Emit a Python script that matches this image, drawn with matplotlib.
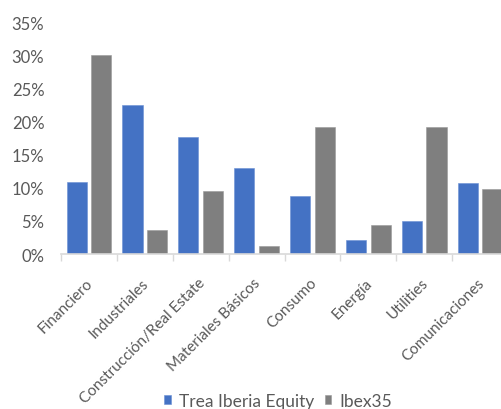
"""Sector weights: Trea Iberia Equity vs Ibex35."""

import matplotlib

matplotlib.use("Agg")
import matplotlib.pyplot as plt
import numpy as np
from matplotlib.ticker import FixedLocator
from matplotlib.transforms import ScaledTranslation

sectors = [
    "Financiero",
    "Industriales",
    "Construcción/Real Estate",
    "Materiales Básicos",
    "Consumo",
    "Energía",
    "Utilities",
    "Comunicaciones",
]
trea = [10.8, 22.5, 17.6, 12.9, 8.7, 2.05, 5.05, 10.65]
ibex = [30.0, 3.6, 9.55, 1.15, 19.15, 4.45, 19.15, 9.85]
y_ticks = [0, 5, 10, 15, 20, 25, 30, 35]

BLUE = "#4472C4"
GRAY = "#7F7F7F"
TEXT = "#595959"

plt.rcParams["font.family"] = ["Lato", "DejaVu Sans"]

fig = plt.figure(figsize=(5.01, 4.10), dpi=100)
ax = fig.add_axes([61 / 501, 155 / 410, 447 / 501, 232 / 410])

x = np.arange(len(sectors))
width = 0.36
ax.bar(x - 0.22, trea, width, color=BLUE, label="Trea Iberia Equity",
       edgecolor="#6a8fd4", linewidth=0.4)
ax.bar(x + 0.22, ibex, width, color=GRAY, label="Ibex35",
       edgecolor="#9a9a9a", linewidth=0.4)

ax.set_xlim(-0.5, len(sectors) - 0.5)
ax.set_ylim(0, 35)
ax.set_yticks(y_ticks)
ax.set_yticklabels([f"{v}%" for v in y_ticks])
ax.tick_params(axis="y", length=0, pad=12, labelsize=12, labelcolor=TEXT)

ax.set_xticks(x)
ax.set_xticklabels(sectors, rotation=45, ha="right", rotation_mode="anchor")
ax.tick_params(axis="x", which="major", length=0, pad=6, labelsize=11,
               labelcolor=TEXT)
# nudge the slanted labels down and a little left, like the original
offset = ScaledTranslation(-3 / 100, -13 / 100, fig.dpi_scale_trans)
for label in ax.get_xticklabels():
    label.set_transform(label.get_transform() + offset)
ax.xaxis.set_minor_locator(FixedLocator(np.arange(-0.5, len(sectors), 1.0)))
ax.tick_params(axis="x", which="minor", length=5, width=1, color="#D9D9D9",
               direction="out")

for side in ["top", "right", "left"]:
    ax.spines[side].set_visible(False)
ax.spines["bottom"].set_color("#D9D9D9")
ax.spines["bottom"].set_linewidth(1.2)

fig.legend(loc="center", bbox_to_anchor=(0.555, 0.02), ncol=2, frameon=False,
           handlelength=0.4, handleheight=0.4, handletextpad=0.45,
           columnspacing=0.6, labelcolor=TEXT, prop={"size": 12.5})

fig.savefig("out.png", dpi=100)
